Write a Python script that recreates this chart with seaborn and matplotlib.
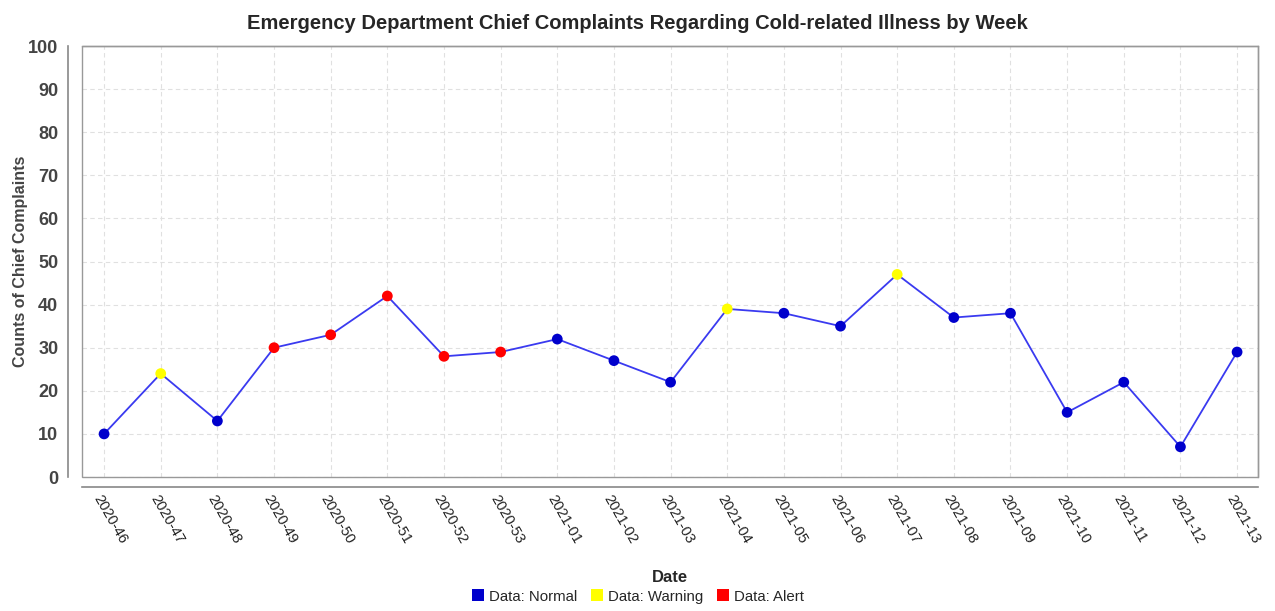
import numpy as np
import pandas as pd
import matplotlib
matplotlib.use("Agg")
import matplotlib.pyplot as plt
import matplotlib.transforms as mtransforms
import seaborn as sns
from matplotlib.lines import Line2D
from matplotlib.patches import Rectangle

weeks = ["2020-46", "2020-47", "2020-48", "2020-49", "2020-50", "2020-51", "2020-52",
         "2020-53", "2021-01", "2021-02", "2021-03", "2021-04", "2021-05", "2021-06",
         "2021-07", "2021-08", "2021-09", "2021-10", "2021-11", "2021-12", "2021-13"]
counts = [10, 24, 13, 30, 33, 42, 28, 29, 32, 27, 22, 39, 38, 35, 47, 37, 38, 15, 22, 7, 29]
status = ["Normal", "Warning", "Normal", "Alert", "Alert", "Alert", "Alert", "Alert",
          "Normal", "Normal", "Normal", "Warning", "Normal", "Normal", "Warning",
          "Normal", "Normal", "Normal", "Normal", "Normal", "Normal"]
status_order = ["Normal", "Warning", "Alert"]
status_colors = {"Normal": "#0000CC", "Warning": "#FFFF00", "Alert": "#FF0000"}
y_ticks = list(range(0, 101, 10))

df = pd.DataFrame({"pos": np.arange(len(weeks)), "week": weeks,
                   "count": counts, "status": status})

sns.set_style("white")
plt.rcParams["font.family"] = ["Liberation Sans", "DejaVu Sans"]

fig = plt.figure(figsize=(12.75, 6.11), dpi=100)
ax = fig.add_axes([0.0643, 0.2193, 0.9224, 0.7054])

sns.lineplot(data=df, x="pos", y="count", color="#3A3AF0", linewidth=1.3, ax=ax, zorder=3)
sns.scatterplot(data=df, x="pos", y="count", hue="status", hue_order=status_order,
                palette=status_colors, s=60, linewidth=0, legend=False, ax=ax, zorder=4)

# box around plot area, axis lines offset outside it
# (spine positioning resets ticks, so do it before styling them)
for side in ["top", "right"]:
    ax.spines[side].set_color("#999999")
    ax.spines[side].set_linewidth(1)
ax.spines["left"].set_position(("outward", 10))
ax.spines["bottom"].set_position(("outward", 7))
for side in ["left", "bottom"]:
    ax.spines[side].set_color("#888888")
    ax.spines[side].set_linewidth(1.2)
ax.add_patch(Rectangle((0, 0), 1, 1, transform=ax.transAxes, fill=False,
                       edgecolor="#999999", linewidth=1, zorder=5, clip_on=False))

ax.set_xlim(-0.39, 20.37)
ax.set_ylim(0, 100)
ax.tick_params(axis="x", pad=3, length=4, color="#888888")
ax.tick_params(axis="y", pad=3, length=4, color="#888888")
ax.set_yticks(y_ticks, labels=[str(v) for v in y_ticks], fontsize=13,
              fontweight="bold", color="#444444")
ax.set_xticks(df["pos"], labels=weeks, rotation=-60, ha="left", va="center",
              rotation_mode="anchor", fontsize=10.5, color="#222222")
shift = mtransforms.ScaledTranslation(-7 / 100, 0, fig.dpi_scale_trans)
for lab in ax.get_xticklabels():
    lab.set_transform(lab.get_transform() + shift)

ax.grid(True, color="#E0E0E0", linestyle=(0, (4, 3)), linewidth=0.8)

ax.set_xlabel("Date", fontsize=12, fontweight="bold")
ax.set_ylabel("Counts of Chief Complaints", fontsize=11.5, fontweight="bold",
              color="#444444")
ax.xaxis.set_label_coords(0.5, -0.215)
ax.yaxis.set_label_coords(-0.046, 0.5)

fig.suptitle("Emergency Department Chief Complaints Regarding Cold-related Illness by Week",
             x=0.5, y=0.977, fontsize=14.5, fontweight="bold")

handles = [Line2D([], [], marker="s", linestyle="none", markersize=8,
                  markerfacecolor=status_colors[s], markeredgewidth=0) for s in status_order]
fig.legend(handles, ["Data: Normal", "Data: Warning", "Data: Alert"], loc="lower center",
           bbox_to_anchor=(0.5, -0.01), ncol=3, frameon=False, fontsize=10.8,
           handletextpad=0.25, columnspacing=0.8, handlelength=1.0)

fig.savefig("out.png", dpi=100)
